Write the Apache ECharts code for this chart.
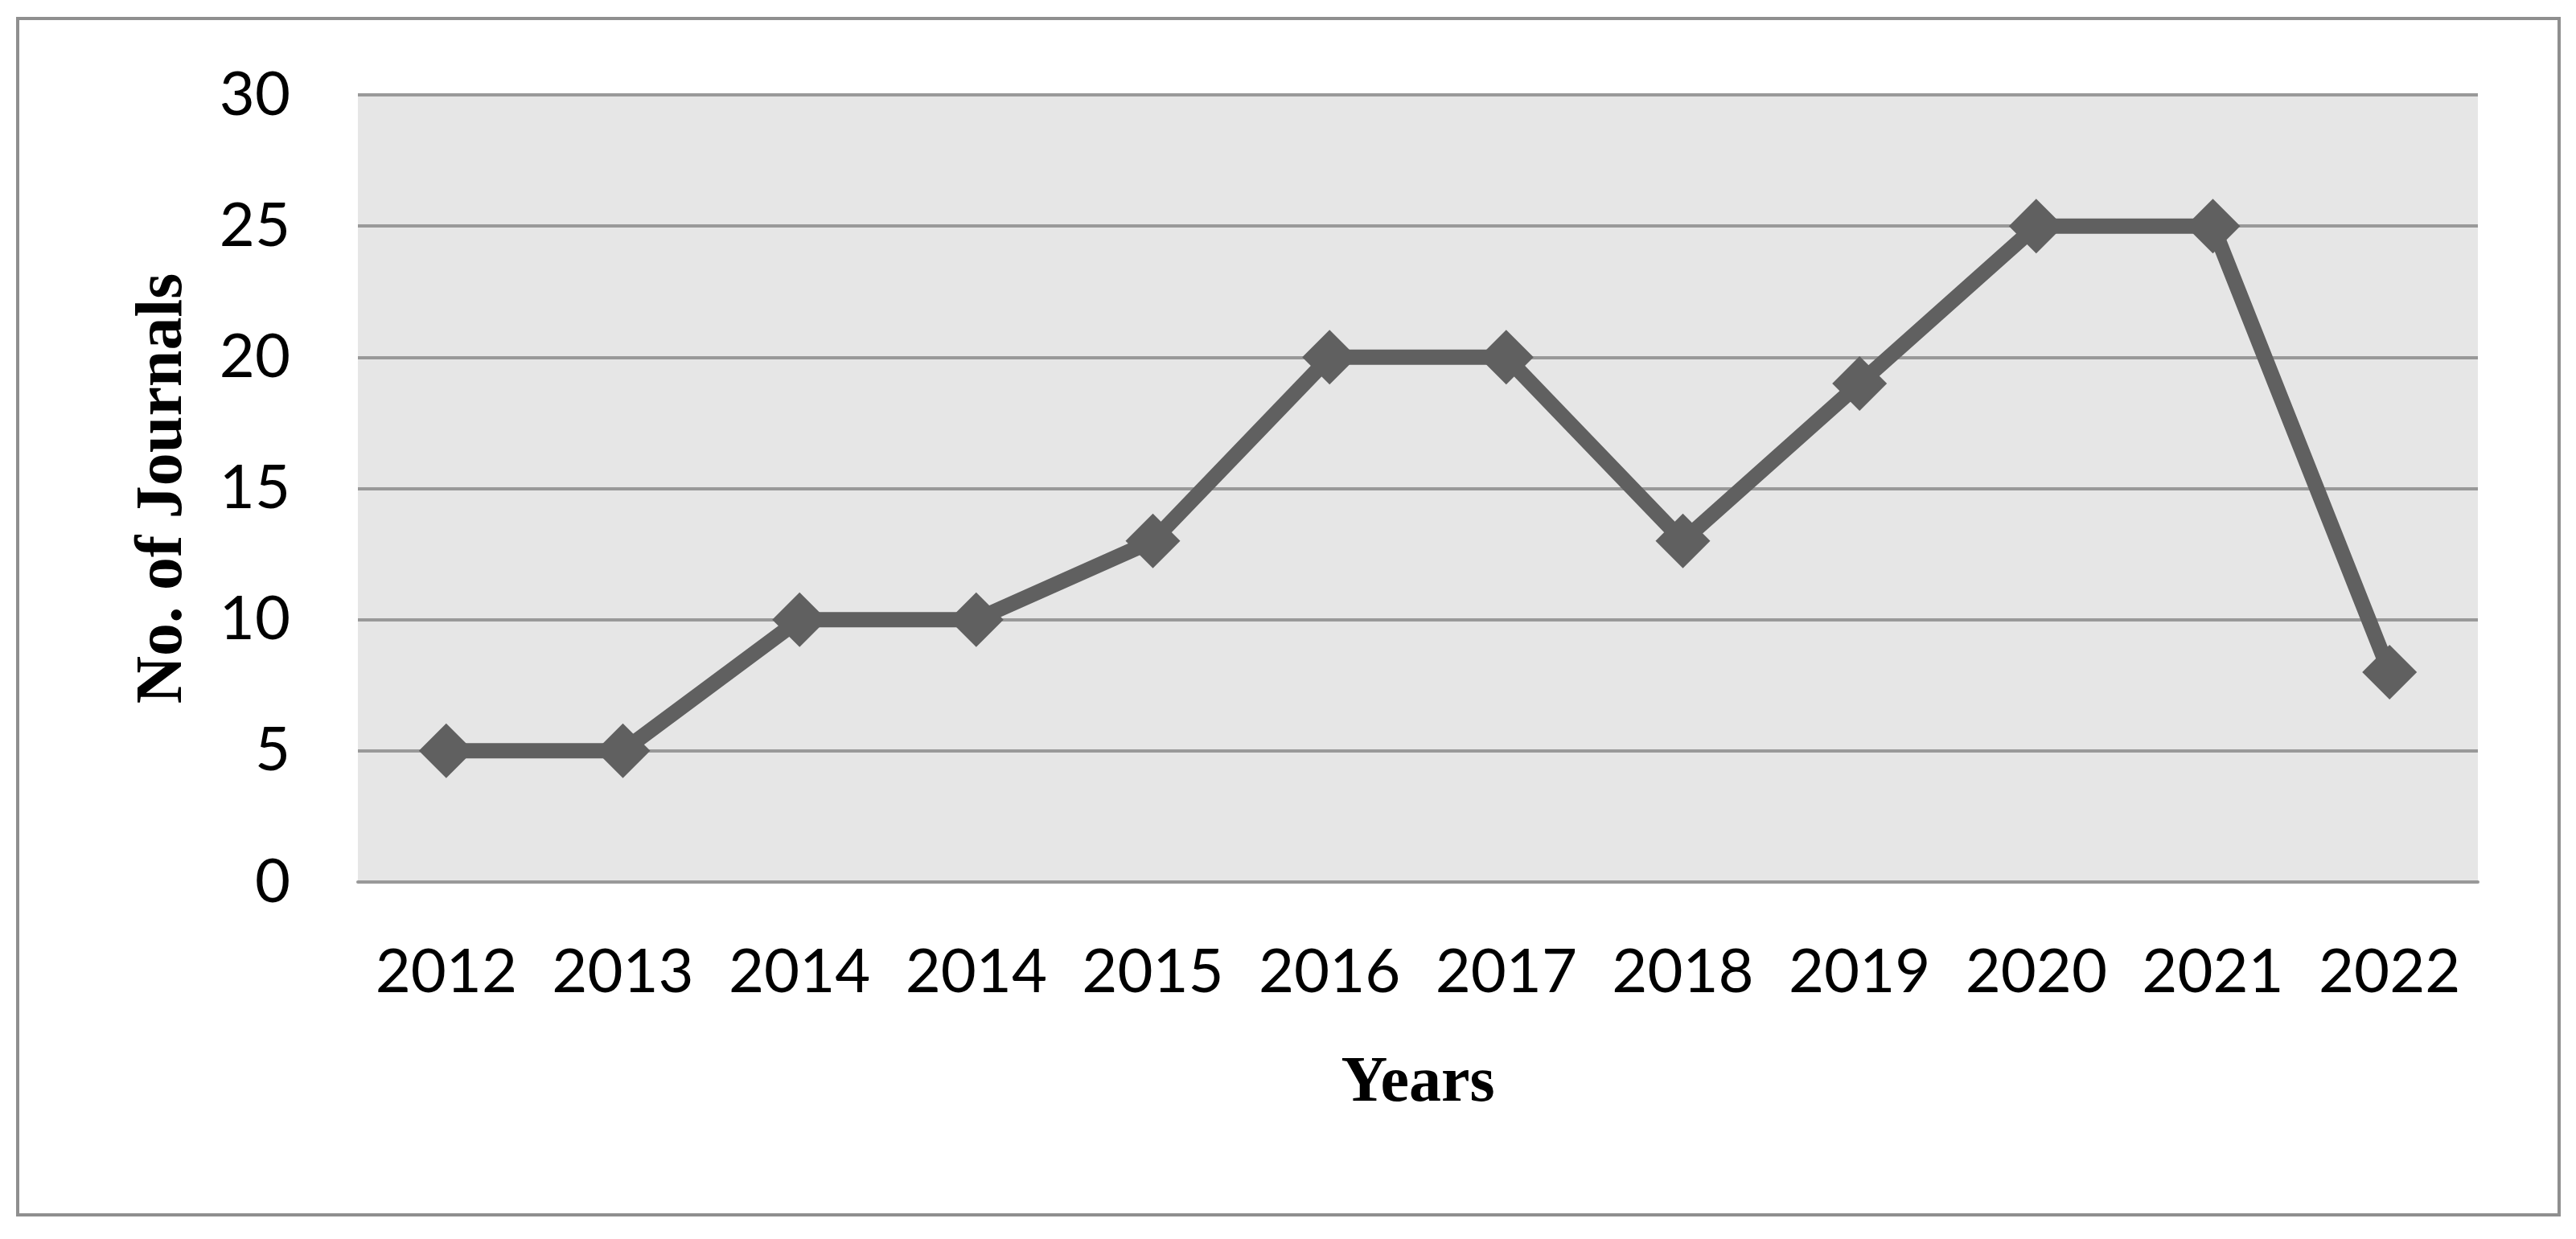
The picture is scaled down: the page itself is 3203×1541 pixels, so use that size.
<!DOCTYPE html>
<html>
<head>
<meta charset="utf-8">
<script src="https://cdn.jsdelivr.net/npm/echarts@6/dist/echarts.min.js"></script>
<style>
  html, body { margin: 0; padding: 0; background: #fff; }
  #chart { width: 3203px; height: 1541px; }
</style>
</head>
<body>
<div id="chart"></div>
<script>
const years = ['2012', '2013', '2014', '2014', '2015', '2016', '2017', '2018', '2019', '2020', '2021', '2022']
const journals = [5, 5, 10, 10, 13, 20, 20, 13, 19, 25, 25, 8]
const yTicks = { min: 0, max: 30, interval: 5 }

const chart = echarts.init(document.getElementById('chart'))

const option = {
  animation: false,
  backgroundColor: '#ffffff',
  graphic: [
    {
      type: 'rect',
      shape: { x: 22, y: 23, width: 3160, height: 1488 },
      style: { fill: 'none', stroke: '#8f8f8f', lineWidth: 4 },
      z: 0
    }
  ],
  grid: {
    left: 445,
    right: 122,
    top: 118,
    bottom: 444,
    show: true,
    backgroundColor: '#e6e6e6',
    borderWidth: 0
  },
  xAxis: {
    type: 'category',
    data: years,
    boundaryGap: true,
    name: 'Years',
    nameLocation: 'middle',
    nameGap: 211,
    nameTextStyle: {
      fontFamily: 'Liberation Serif',
      fontWeight: 'bold',
      fontSize: 80,
      color: '#000'
    },
    axisLine: { show: true, lineStyle: { color: '#999999', width: 4 } },
    axisTick: { show: false },
    axisLabel: {
      interval: 0,
      margin: 74,
      fontFamily: 'Lato',
      fontSize: 76,
      color: '#000'
    },
    splitLine: { show: false }
  },
  yAxis: {
    type: 'value',
    min: yTicks.min,
    max: yTicks.max,
    interval: yTicks.interval,
    name: 'No. of Journals',
    nameLocation: 'middle',
    nameRotate: 90,
    nameGap: 200,
    nameTextStyle: {
      fontFamily: 'Liberation Serif',
      fontWeight: 'bold',
      fontSize: 82,
      color: '#000'
    },
    axisLine: { show: false },
    axisTick: { show: false },
    axisLabel: {
      margin: 84,
      fontFamily: 'Lato',
      fontSize: 76,
      color: '#000'
    },
    splitLine: { lineStyle: { color: '#999999', width: 4 } }
  },
  series: [
    {
      type: 'line',
      data: journals,
      symbol: 'diamond',
      symbolSize: 68,
      lineStyle: { color: '#606060', width: 19 },
      itemStyle: { color: '#606060' }
    }
  ]
}

chart.setOption(option)
</script>
</body>
</html>
